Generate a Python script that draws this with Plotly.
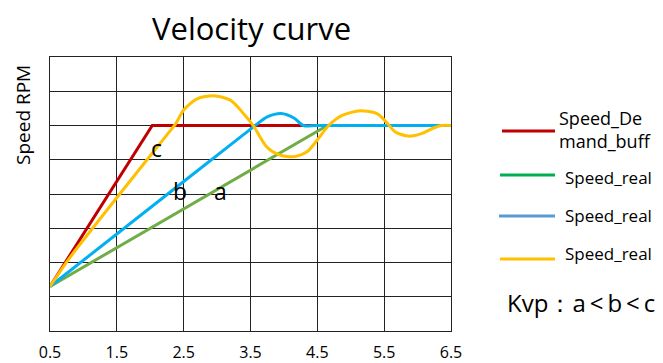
import plotly.graph_objects as go

# ---- data (time in x-axis units, speed in grid units) ----
red_x = [0.5, 2.03, 4.3, 6.5]
red_y = [1.3, 6.0, 6.0, 6.0]

green_x = [0.5, 4.65, 6.5]
green_y = [1.3, 6.0, 6.0]

blue_x = [0.5, 2.0, 3.4, 3.57, 3.75, 3.96, 4.15, 4.29, 4.5, 6.5]
blue_y = [1.3, 3.6, 5.74, 6.0, 6.25, 6.35, 6.22, 6.0, 6.0, 6.0]

yellow_x = [0.5, 0.8, 2.3, 2.38, 2.5, 2.7, 2.95, 3.2, 3.39, 3.54, 3.74, 3.93,
            4.15, 4.35, 4.52, 4.67, 4.88, 5.14, 5.4, 5.55, 5.66, 5.86, 6.07,
            6.23, 6.36, 6.5]
yellow_y = [1.3, 2.15, 5.85, 6.05, 6.45, 6.78, 6.87, 6.74, 6.36, 6.0, 5.38, 5.14,
            5.09, 5.24, 5.63, 6.0, 6.3, 6.43, 6.34, 6.06, 5.82, 5.69, 5.77,
            5.92, 6.0, 6.0]

curve_labels = ["c", "b", "a"]
curve_label_x = [2.1, 2.45, 3.05]
curve_label_y = [5.34, 4.1, 4.1]

x_ticks = [0.5, 1.5, 2.5, 3.5, 4.5, 5.5, 6.5]
legend_names = ["Speed_De<br>mand_buff", "Speed_real", "Speed_real", "Speed_real"]
legend_colors = ["#C00000", "#00B050", "#5B9BD5", "#FFC000"]
title_text = "Velocity curve"

FONT = "Open Sans"
# page body has an 8px margin; shrink figure so plot lands where the reference has it
OFF = 8
W, H = 663 - OFF, 363 - OFF
L, T = 50 - OFF, 57 - OFF
PW, PH = 401, 274
R, B = W - L - PW, H - T - PH

def px(xpix):
    return (xpix - 50) / PW

def py(ypix):
    return (331 - ypix) / PH

fig = go.Figure()
fig.add_trace(go.Scatter(x=red_x, y=red_y, mode="lines",
                         line=dict(color="#C00000", width=3)))
fig.add_trace(go.Scatter(x=green_x, y=green_y, mode="lines",
                         line=dict(color="#70AD47", width=3)))
fig.add_trace(go.Scatter(x=blue_x, y=blue_y, mode="lines",
                         line=dict(color="#00B0F0", width=3, shape="spline", smoothing=0.8)))
fig.add_trace(go.Scatter(x=yellow_x, y=yellow_y, mode="lines",
                         line=dict(color="#FFC000", width=3, shape="spline", smoothing=0.75)))

for t, x, y in zip(curve_labels, curve_label_x, curve_label_y):
    fig.add_annotation(x=x, y=y, text=t, showarrow=False,
                       font=dict(family=FONT, size=23, color="black"))

# legend drawn manually
leg_pix_y = [131, 175, 216, 259]
line_x0 = [502, 500, 499, 500]
text_pix_x = [557, 563, 563, 563]
text_pix_y = [129, 177, 215, 253]
text_size = [18, 17, 17, 17]
for i, (name, col) in enumerate(zip(legend_names, legend_colors)):
    fig.add_shape(type="line", xref="paper", yref="paper",
                  x0=px(line_x0[i]), x1=px(555), y0=py(leg_pix_y[i]), y1=py(leg_pix_y[i]),
                  line=dict(color=col, width=3))
    fig.add_annotation(xref="paper", yref="paper",
                       x=px(text_pix_x[i]), y=py(text_pix_y[i]),
                       xanchor="left", yanchor="middle", text=name, showarrow=False,
                       align="left", font=dict(family=FONT, size=text_size[i], color="black"))
fig.add_annotation(xref="paper", yref="paper", x=px(505), y=py(302),
                   xanchor="left", yanchor="middle",
                   text="Kvp：<span style='font-size:24px'>a&#8201;&lt;&#8201;b&#8201;&lt;&#8201;c</span>",
                   showarrow=False, font=dict(family=FONT, size=24, color="black"))

# y title
fig.add_annotation(xref="paper", yref="paper", x=px(23), y=py(115), textangle=-90,
                   text="Speed RPM", showarrow=False, xanchor="center", yanchor="middle",
                   font=dict(family=FONT, size=19, color="black"))

# chart title
fig.add_annotation(xref="paper", yref="paper", x=px(251), y=py(28), xanchor="center",
                   yanchor="middle", text=title_text, showarrow=False,
                   font=dict(family=FONT, size=31, color="black"))

fig.update_layout(
    width=W, height=H,
    margin=dict(l=L, r=R, t=T, b=B, autoexpand=False),
    paper_bgcolor="white", plot_bgcolor="white",
    showlegend=False,
    xaxis=dict(range=[0.5, 6.5], tickvals=x_ticks, ticktext=[str(v) for v in x_ticks],
               showgrid=True, gridcolor="#222", gridwidth=1, zeroline=False,
               showline=True, linecolor="#222", mirror=True, ticks="",
               ticklabelstandoff=7,
               tickfont=dict(family=FONT, size=16, color="black")),
    yaxis=dict(range=[0, 8], dtick=1, showticklabels=False,
               showgrid=True, gridcolor="#222", gridwidth=1, zeroline=False,
               showline=True, linecolor="#222", mirror=True, ticks=""),
)

fig.write_html("out.html")
